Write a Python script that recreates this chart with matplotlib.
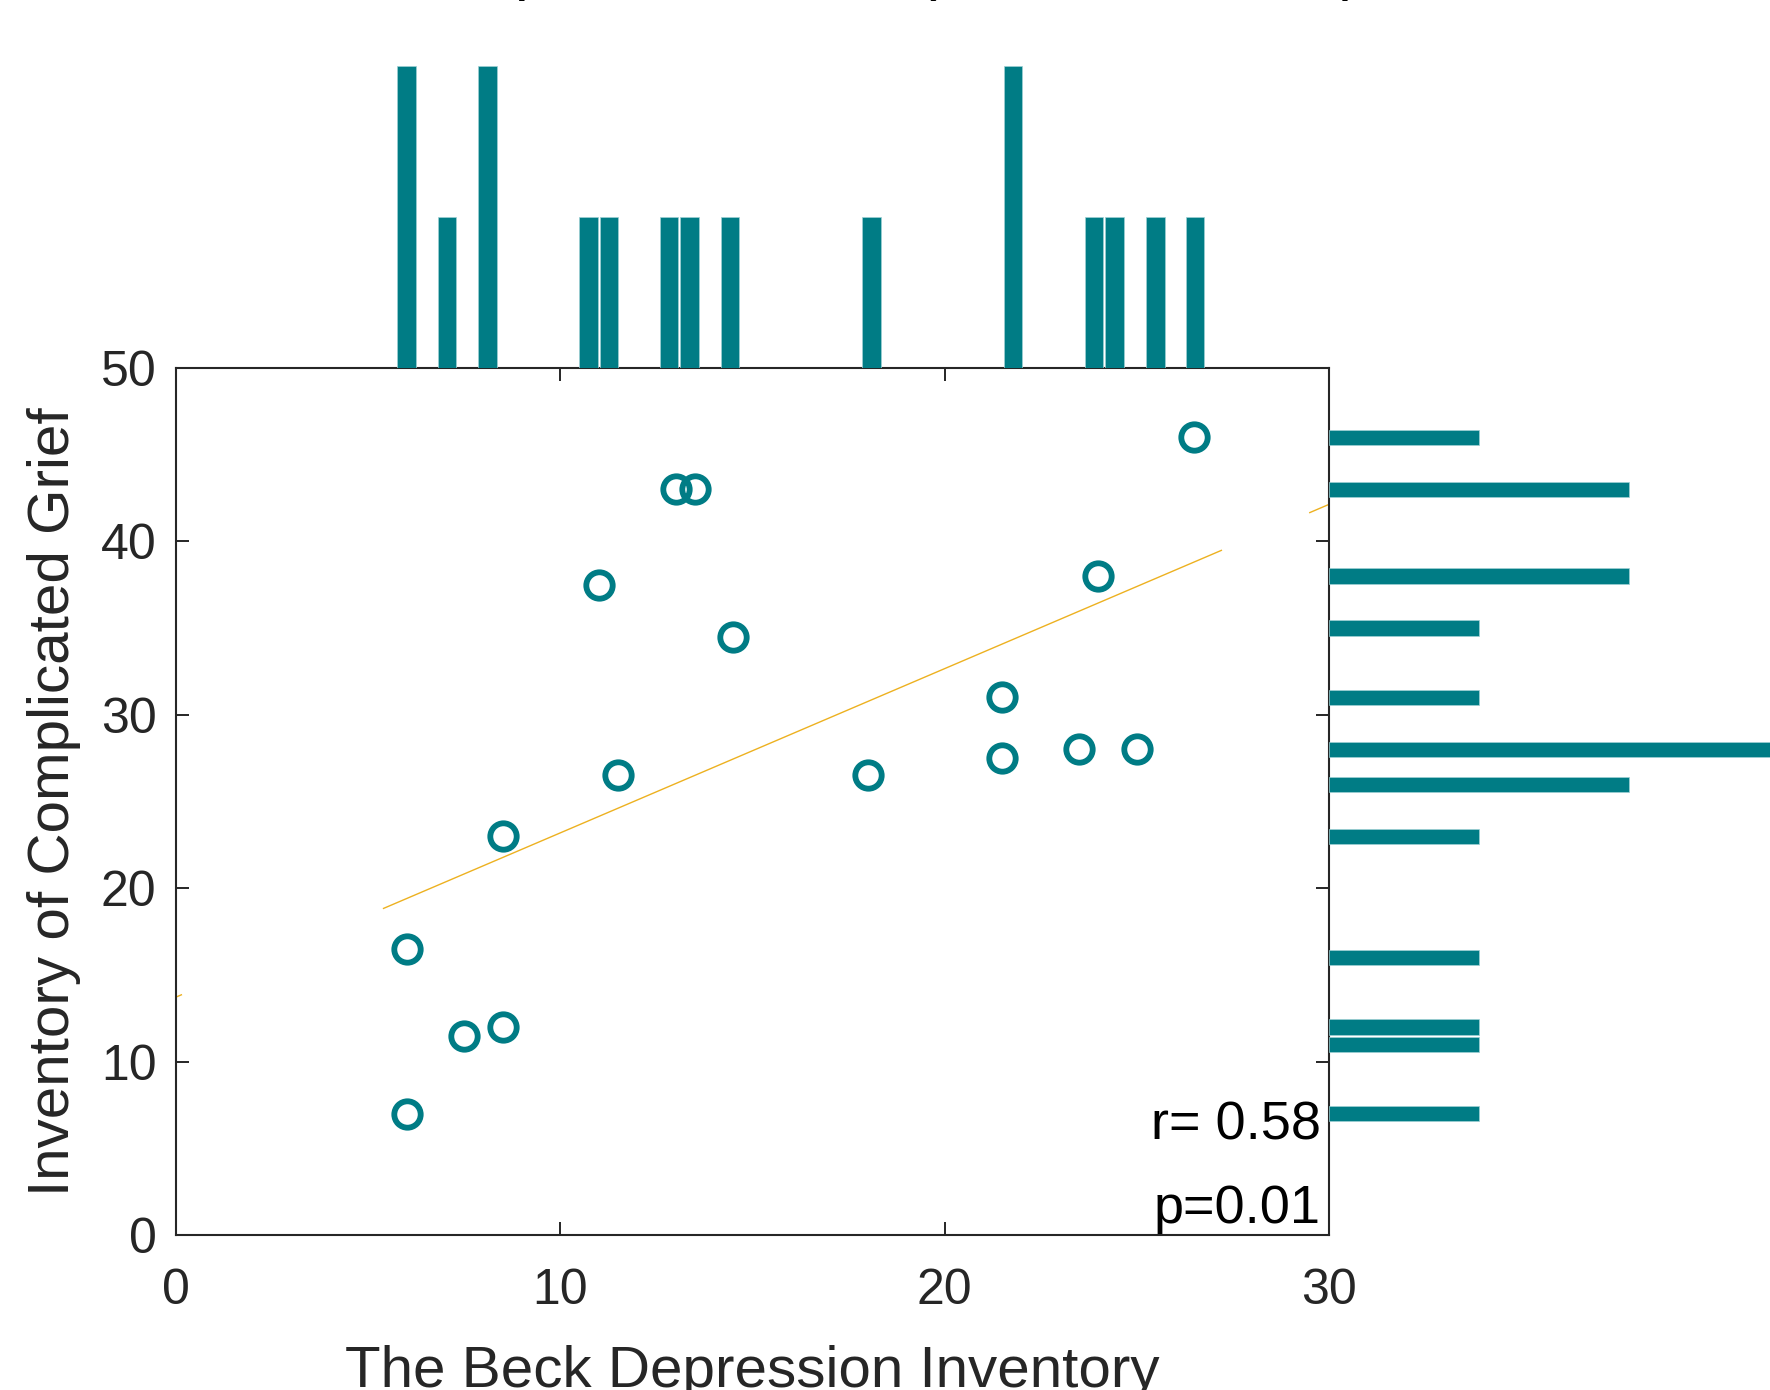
import numpy as np
import matplotlib
matplotlib.use('Agg')
import matplotlib.pyplot as plt

plt.rcParams['font.family'] = ['Liberation Sans', 'DejaVu Sans']

# BDI (x) and ICG (y) scores per subject
bdi = [6, 6, 7.5, 8.5, 8.5, 11, 11.5, 13, 13.5, 14.5, 18, 21.5, 21.5, 23.5, 24, 25, 26.5]
icg = [16.5, 7, 11.5, 12, 23, 37.5, 26.5, 43, 43, 34.5, 26.5, 31, 27.5, 28, 38, 28, 46]

# marginal histograms (bin position, count)
bdi_bins = [6.0, 7.05, 8.1, 10.73, 11.26, 12.83, 13.36, 14.41, 18.1, 21.78, 23.89, 24.42, 25.48, 26.52]
bdi_counts = [2, 1, 2, 1, 1, 1, 1, 1, 1, 2, 1, 1, 1, 1]
icg_bins = [46, 43, 38, 35, 31, 28, 26, 23, 16, 12, 11, 7]
icg_counts = [1, 2, 2, 1, 1, 3, 2, 1, 1, 1, 1, 1]

r_text = 'r= 0.58'
p_text = 'p=0.01'

teal = '#007C85'
orange = '#EDB120'
dark = '#262626'

W, H = 1770, 1390
fig = plt.figure(figsize=(W / 100, H / 100), dpi=100)

def box(l, t, r, b):
    return [l / W, 1 - b / H, (r - l) / W, (b - t) / H]

ax = fig.add_axes(box(176, 368, 1329, 1235))
ax_top = fig.add_axes(box(176, 66, 1329, 368))
ax_right = fig.add_axes(box(1329, 368, 1629, 1235))

# scatter + least squares line
ax.plot(bdi, icg, 'o', ms=19, mew=4.2, mec=teal, mfc='none', zorder=3)
slope, icpt = np.polyfit(bdi, icg, 1)
xfit = np.array([5.4, 27.2])
ax.plot(xfit, icpt + slope * xfit, color=orange, lw=1.0, zorder=2)
for seg in ([0, 0.14], [29.5, 30]):
    seg = np.array(seg)
    ax.plot(seg, icpt + slope * seg, color=orange, lw=1.0, zorder=2)

ax.set_xlim(0, 30)
ax.set_ylim(0, 50)
ax.set_xticks([0, 10, 20, 30])
ax.set_yticks([0, 10, 20, 30, 40, 50])
ax.tick_params(direction='in', length=9.5, width=1.4, colors=dark,
               labelsize=36, top=True, right=True, pad=14)
ax.tick_params(axis='x', pad=24)
for s in ax.spines.values():
    s.set_color(dark)
    s.set_linewidth(1.5)
ax.set_xlabel('The Beck Depression Inventory', fontsize=42, color=dark, labelpad=22)
ax.set_ylabel('Inventory of Complicated Grief', fontsize=42, color=dark, labelpad=14)

ax.text(0.993, 0.110, r_text, transform=ax.transAxes, ha='right', va='baseline',
        fontsize=39, color='black')
ax.text(0.993, 0.0144, p_text, transform=ax.transAxes, ha='right', va='baseline',
        fontsize=39, color='black')

# top histogram of BDI
ax_top.bar(bdi_bins, bdi_counts, width=0.48, color=teal, edgecolor='#9fd0d4', linewidth=0.5)
ax_top.set_xlim(0, 30)
ax_top.set_ylim(0, 2)
ax_top.axis('off')

# right histogram of ICG
ax_right.barh(icg_bins, icg_counts, height=0.88, color=teal, edgecolor='#9fd0d4',
              linewidth=0.5, clip_on=False)
ax_right.set_ylim(0, 50)
ax_right.set_xlim(0, 2)
ax_right.axis('off')

fig.text(785 / W, 1 + 12 / H, 'Whole sample correlation (bereaved adult)',
         ha='center', va='baseline', fontsize=44, color='black')

fig.savefig('out.png', dpi=100)
